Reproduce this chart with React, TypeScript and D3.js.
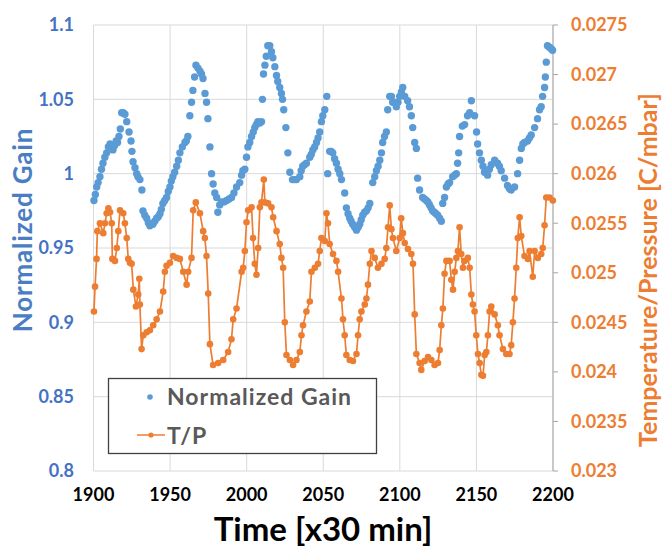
import React from "react";
import * as d3 from "d3";

const xTicks = [1900, 1950, 2000, 2050, 2100, 2150, 2200];
const gainTicks = [0.8, 0.85, 0.9, 0.95, 1, 1.05, 1.1];
const gainTickLabels = ["0.8", "0.85", "0.9", "0.95", "1", "1.05", "1.1"];
const tpTicks = [0.023, 0.0235, 0.024, 0.0245, 0.025, 0.0255, 0.026, 0.0265, 0.027, 0.0275];
const tpTickLabels = ["0.023", "0.0235", "0.024", "0.0245", "0.025", "0.0255", "0.026", "0.0265", "0.027", "0.0275"];

const gainT = [
  1900.3, 1901.2, 1902.1, 1903.0, 1904.2, 1905.2, 1906.2, 1907.4, 1908.6, 1909.7, 1910.8, 1911.8, 1912.7, 1913.8, 1914.8, 1915.7, 1916.6, 1917.5, 1918.4, 1919.4,
  1920.5, 1921.7, 1923.2, 1924.5, 1925.1, 1925.8, 1927.1, 1928.2, 1929.0, 1930.3, 1931.6, 1932.3, 1933.5, 1934.7, 1935.8, 1936.8, 1937.8, 1938.8, 1940.0, 1941.2,
  1942.3, 1943.4, 1944.3, 1945.3, 1946.5, 1947.7, 1948.8, 1949.9, 1950.8, 1951.8, 1953.0, 1954.3, 1955.4, 1956.4, 1958.0, 1959.7, 1960.6, 1961.6, 1962.9, 1964.0,
  1964.9, 1966.0, 1966.9, 1968.2, 1969.5, 1970.5, 1971.5, 1972.8, 1973.8, 1974.7, 1976.0, 1977.1, 1978.1, 1979.2, 1980.4, 1981.2, 1982.4, 1983.6, 1985.2, 1986.9,
  1988.5, 1990.1, 1991.7, 1993.4, 1995.5, 1996.7, 1997.5, 1998.8, 1999.9, 2000.8, 2002.0, 2003.2, 2004.3, 2005.3, 2006.3, 2007.3, 2008.5, 2009.7, 2010.3, 2011.0,
  2011.9, 2012.8, 2013.8, 2015.1, 2016.2, 2017.1, 2018.4, 2019.5, 2020.3, 2021.6, 2022.7, 2023.4, 2024.2, 2025.6, 2026.9, 2028.2, 2029.9, 2031.2, 2032.5, 2034.7,
  2035.6, 2036.6, 2037.8, 2039.0, 2041.2, 2042.2, 2043.2, 2044.4, 2045.6, 2046.6, 2047.7, 2048.8, 2049.7, 2051.0, 2052.3, 2052.9, 2054.2, 2055.2, 2056.2, 2057.4,
  2058.6, 2059.7, 2060.8, 2061.9, 2064.0, 2065.1, 2066.2, 2067.3, 2068.2, 2069.2, 2070.5, 2071.7, 2072.8, 2073.8, 2074.8, 2075.8, 2077.0, 2078.2, 2079.3, 2080.4,
  2082.3, 2083.6, 2084.7, 2085.8, 2086.9, 2088.0, 2088.8, 2090.0, 2091.2, 2092.1, 2093.4, 2094.5, 2095.3, 2096.6, 2097.7, 2098.8, 2099.9, 2101.0, 2101.9, 2103.2,
  2105.1, 2106.3, 2107.5, 2108.4, 2109.7, 2110.8, 2111.6, 2112.9, 2114.9, 2116.1, 2117.3, 2118.3, 2119.4, 2120.4, 2121.4, 2122.5, 2123.6, 2124.7, 2126.0, 2127.1,
  2128.0, 2129.2, 2130.4, 2131.5, 2132.5, 2134.5, 2135.7, 2136.9, 2137.7, 2138.4, 2139.0, 2140.8, 2142.3, 2144.2, 2145.6, 2146.7, 2148.8, 2150.1, 2150.8, 2152.0,
  2153.2, 2154.3, 2155.3, 2157.3, 2158.5, 2159.7, 2161.9, 2163.8, 2165.0, 2166.2, 2168.4, 2170.3, 2171.5, 2172.7, 2174.9, 2176.9, 2178.2, 2179.3, 2180.3, 2181.4,
  2183.4, 2184.6, 2185.8, 2188.0, 2189.9, 2191.2, 2192.3, 2193.2, 2194.5, 2195.0, 2195.6, 2196.4, 2197.6, 2198.8, 2199.7,
];
const gainV = [
  0.982, 0.986, 0.991, 0.994, 0.998, 1.003, 1.007, 1.011, 1.014, 1.018, 1.020, 1.018, 1.016, 1.019, 1.022, 1.021, 1.025, 1.030, 1.041, 1.041,
  1.040, 1.035, 1.028, 1.022, 1.015, 1.008, 1.004, 1.000, 0.998, 0.996, 0.989, 0.975, 0.972, 0.970, 0.967, 0.965, 0.966, 0.966, 0.968, 0.970,
  0.971, 0.973, 0.976, 0.980, 0.982, 0.984, 0.988, 0.991, 0.995, 0.998, 1.001, 1.005, 1.009, 1.014, 1.018, 1.021, 1.022, 1.025, 1.039, 1.048,
  1.056, 1.065, 1.073, 1.071, 1.069, 1.067, 1.064, 1.054, 1.048, 1.037, 1.018, 1.000, 0.993, 0.987, 0.984, 0.974, 0.979, 0.981, 0.981, 0.982,
  0.983, 0.984, 0.987, 0.991, 0.994, 0.999, 1.002, 1.003, 1.011, 1.018, 1.021, 1.025, 1.028, 1.031, 1.033, 1.035, 1.034, 1.035, 1.050, 1.067,
  1.073, 1.079, 1.086, 1.086, 1.082, 1.078, 1.072, 1.066, 1.062, 1.058, 1.054, 1.050, 1.043, 1.031, 1.014, 1.001, 0.996, 0.996, 0.996, 0.998,
  1.002, 1.005, 1.006, 1.007, 1.011, 1.013, 1.016, 1.018, 1.021, 1.024, 1.028, 1.035, 1.039, 1.043, 1.052, 1.000, 1.015, 1.015, 1.014, 1.010,
  1.007, 1.003, 1.000, 0.996, 0.987, 0.977, 0.973, 0.970, 0.968, 0.966, 0.964, 0.962, 0.964, 0.966, 0.969, 0.972, 0.974, 0.975, 0.977, 0.980,
  0.994, 0.998, 1.002, 1.005, 1.009, 1.014, 1.021, 1.025, 1.028, 1.043, 1.052, 1.052, 1.048, 1.048, 1.045, 1.048, 1.052, 1.055, 1.058, 1.052,
  1.049, 1.045, 1.039, 1.031, 1.021, 1.017, 0.997, 0.989, 0.984, 0.983, 0.982, 0.981, 0.979, 0.977, 0.975, 0.974, 0.973, 0.972, 0.970, 0.968,
  0.980, 0.984, 0.991, 0.993, 0.994, 0.998, 0.999, 1.000, 1.007, 1.014, 1.025, 1.032, 1.033, 1.039, 1.041, 1.049, 1.039, 1.028, 1.020, 1.014,
  1.009, 1.005, 1.001, 0.999, 1.003, 1.006, 1.009, 1.007, 1.005, 1.002, 0.997, 0.992, 0.990, 0.989, 0.991, 1.000, 1.009, 1.017, 1.020, 1.021,
  1.022, 1.024, 1.026, 1.031, 1.037, 1.043, 1.045, 1.052, 1.058, 1.065, 1.075, 1.086, 1.085, 1.084, 1.083,
];

const tpT = [
  1900.3, 1901.0, 1902.0, 1902.5, 1904.2, 1906.4, 1907.5, 1908.6, 1909.7, 1910.8, 1911.9, 1912.3, 1914.0, 1915.2, 1916.2, 1917.3, 1919.4, 1920.5, 1921.7, 1922.7,
  1923.8, 1924.9, 1926.0, 1927.7, 1929.2, 1929.9, 1930.3, 1931.4, 1932.5, 1934.7, 1936.8, 1939.0, 1941.2, 1943.4, 1945.5, 1946.6, 1947.7, 1949.9, 1952.0, 1954.3,
  1956.4, 1958.6, 1960.8, 1961.8, 1964.0, 1965.1, 1966.8, 1969.5, 1971.6, 1972.7, 1973.8, 1974.9, 1976.0, 1978.1, 1981.4, 1984.7, 1987.9, 1990.1, 1991.2, 1993.4,
  1996.7, 1997.7, 1998.8, 1999.9, 2001.0, 2003.2, 2004.2, 2005.3, 2006.4, 2007.5, 2008.6, 2009.7, 2011.2, 2011.9, 2014.0, 2016.2, 2017.3, 2019.5, 2021.6, 2022.7,
  2023.8, 2024.9, 2026.0, 2028.2, 2030.3, 2032.5, 2034.7, 2035.8, 2036.8, 2039.0, 2041.2, 2042.3, 2044.5, 2046.6, 2047.7, 2048.8, 2051.0, 2052.1, 2053.1, 2054.2,
  2056.4, 2058.6, 2059.7, 2061.9, 2062.9, 2064.0, 2065.1, 2067.3, 2069.4, 2071.7, 2072.7, 2073.8, 2074.9, 2077.1, 2078.2, 2079.2, 2080.4, 2081.5, 2083.6, 2085.7,
  2088.0, 2090.1, 2091.2, 2092.3, 2093.4, 2094.5, 2095.5, 2097.7, 2099.9, 2100.9, 2102.0, 2103.2, 2105.3, 2107.5, 2108.6, 2109.7, 2110.8, 2112.9, 2114.0, 2116.2,
  2118.4, 2120.6, 2122.7, 2124.9, 2126.0, 2127.1, 2128.1, 2129.2, 2130.4, 2132.5, 2133.6, 2134.7, 2135.8, 2136.9, 2137.9, 2139.0, 2140.1, 2141.2, 2142.3, 2144.4,
  2145.6, 2146.7, 2147.7, 2148.8, 2149.9, 2151.0, 2152.1, 2153.2, 2154.3, 2155.4, 2156.5, 2157.5, 2158.6, 2159.7, 2161.9, 2164.0, 2165.1, 2167.3, 2169.5, 2171.6,
  2172.7, 2173.8, 2174.9, 2176.0, 2177.0, 2178.2, 2179.3, 2181.4, 2183.6, 2184.7, 2186.8, 2188.0, 2190.1, 2192.3, 2193.3, 2194.5, 2195.6, 2197.7, 2199.9,
];
const tpV = [
  0.02461, 0.02486, 0.02514, 0.02542, 0.0255, 0.0254, 0.0255, 0.0256, 0.02565, 0.02561, 0.0255, 0.02514, 0.02512, 0.02525, 0.02542, 0.02563, 0.0256, 0.0255, 0.02535, 0.02514,
  0.0251, 0.02509, 0.02483, 0.02466, 0.02478, 0.02494, 0.02468, 0.02423, 0.02437, 0.0244, 0.02442, 0.02447, 0.02453, 0.02461, 0.02481, 0.02501, 0.02507, 0.0251, 0.02517, 0.02515,
  0.02514, 0.02501, 0.02488, 0.02501, 0.02515, 0.02563, 0.02571, 0.0256, 0.02542, 0.02535, 0.02517, 0.02479, 0.02428, 0.02407, 0.02409, 0.02412, 0.0242, 0.02433, 0.02453, 0.02464,
  0.02501, 0.02505, 0.02522, 0.02551, 0.02563, 0.02566, 0.02535, 0.02509, 0.02498, 0.02525, 0.02566, 0.02571, 0.02594, 0.02571, 0.0257, 0.02566, 0.02556, 0.02542, 0.02529, 0.02515,
  0.02505, 0.0245, 0.02417, 0.02412, 0.02407, 0.02412, 0.0242, 0.02437, 0.02447, 0.02461, 0.02471, 0.02501, 0.02505, 0.02509, 0.02522, 0.02535, 0.02532, 0.0256, 0.0255, 0.02529,
  0.02519, 0.02512, 0.02501, 0.02474, 0.02453, 0.02437, 0.02417, 0.02412, 0.02411, 0.02418, 0.02437, 0.02453, 0.02461, 0.02468, 0.02474, 0.02488, 0.02509, 0.02522, 0.02515, 0.02505,
  0.02509, 0.02514, 0.02525, 0.02546, 0.02568, 0.02544, 0.02535, 0.02522, 0.02535, 0.02555, 0.0254, 0.0253, 0.02524, 0.02519, 0.02509, 0.02458, 0.02418, 0.02409, 0.02402, 0.02411,
  0.02415, 0.02412, 0.02407, 0.02409, 0.02422, 0.02447, 0.02464, 0.02499, 0.02512, 0.02512, 0.02493, 0.02483, 0.02501, 0.02515, 0.02522, 0.02546, 0.02519, 0.02505, 0.02512, 0.02515,
  0.02505, 0.02478, 0.02468, 0.02461, 0.02437, 0.02418, 0.02409, 0.02397, 0.02396, 0.02417, 0.0242, 0.02437, 0.02461, 0.02466, 0.02458, 0.02447, 0.02437, 0.02423, 0.02418, 0.02418,
  0.02427, 0.0245, 0.02474, 0.02505, 0.02535, 0.02556, 0.02537, 0.02517, 0.02514, 0.02522, 0.02496, 0.02522, 0.02515, 0.02519, 0.02525, 0.02548, 0.02576, 0.02576, 0.02573,
];

const W = 664;
const H = 549;
const L = 93.5;
const R = 553;
const T = 25;
const B = 471;
const BLUE = "#5B9BD5";
const ORANGE = "#ED7D31";
const FONT = "Lato, 'Open Sans', sans-serif";

export default function App() {
  const x = d3.scaleLinear().domain([1900, 2200]).range([L, R]);
  const yG = d3.scaleLinear().domain([0.8, 1.1]).range([B, T]);
  const yT = d3.scaleLinear().domain([0.023, 0.0275]).range([B, T]);

  const gainPts = gainT.map((t, i) => [t, gainV[i]] as [number, number]);
  const tpPts = tpT.map((t, i) => [t, tpV[i]] as [number, number]);
  const line = d3
    .line<[number, number]>()
    .x((d) => x(d[0]))
    .y((d) => yT(d[1]));

  return (
    <svg
      width={W}
      height={H}
      style={{ position: "absolute", left: 0, top: 0, background: "#fff" }}
      fontFamily={FONT}
    >
      <rect x={0} y={0} width={W} height={H} fill="#fff" />
      {/* gridlines */}
      {gainTicks.map((v) => (
        <line key={"gy" + v} x1={L} x2={R} y1={yG(v)} y2={yG(v)} stroke="#d9d9d9" strokeWidth={1} />
      ))}
      {xTicks.map((v) => (
        <line key={"gx" + v} x1={x(v)} x2={x(v)} y1={T} y2={B} stroke="#d9d9d9" strokeWidth={1} />
      ))}
      {/* right axis */}
      <line x1={R} x2={R} y1={T} y2={B} stroke="#a6a6a6" strokeWidth={1} />
      {tpTicks.map((v) => (
        <line key={"rt" + v} x1={R} x2={R + 5} y1={yT(v)} y2={yT(v)} stroke="#a6a6a6" strokeWidth={1} />
      ))}

      {/* T/P line */}
      <path d={line(tpPts) || ""} fill="none" stroke={ORANGE} strokeWidth={1.7} />
      {tpPts.map((d, i) => (
        <circle key={"tp" + i} cx={x(d[0])} cy={yT(d[1])} r={3.3} fill={ORANGE} />
      ))}
      {/* gain markers */}
      {gainPts.map((d, i) => (
        <circle key={"g" + i} cx={x(d[0])} cy={yG(d[1])} r={3.7} fill={BLUE} />
      ))}

      {/* left tick labels */}
      {gainTicks.map((v, i) => (
        <text
          key={"gl" + v}
          x={74}
          y={yG(v)}
          dy="0.35em"
          textAnchor="end"
          fontSize={18}
          fontWeight="bold"
          fill="#4472C4"
        >
          {gainTickLabels[i]}
        </text>
      ))}
      {/* right tick labels */}
      {tpTicks.map((v, i) => (
        <text
          key={"tl" + v}
          x={571}
          y={yT(v)}
          dy="0.35em"
          textAnchor="start"
          fontSize={18}
          fontWeight="bold"
          fill={ORANGE}
        >
          {tpTickLabels[i]}
        </text>
      ))}
      {/* x tick labels */}
      {xTicks.map((v) => (
        <text
          key={"xl" + v}
          x={x(v)}
          y={495}
          dy="0.35em"
          textAnchor="middle"
          fontSize={18}
          fontWeight="bold"
          fill="#000"
        >
          {v}
        </text>
      ))}

      {/* axis titles */}
      <text
        x={0}
        y={0}
        transform={`translate(23,230) rotate(-90)`}
        textAnchor="middle"
        dy="0.35em"
        fontSize={26}
        fontWeight="bold"
        letterSpacing={0.8}
        fill="#4A7EC3"
      >
        Normalized Gain
      </text>
      <text
        x={0}
        y={0}
        transform={`translate(648,270) rotate(-90)`}
        textAnchor="middle"
        dy="0.35em"
        fontSize={25}
        fontWeight="bold"
        fill={ORANGE}
      >
        Temperature/Pressure [C/mbar]
      </text>
      <text x={323} y={541} textAnchor="middle" fontSize={33} fontWeight="bold" fill="#000">
        Time [x30 min]
      </text>

      {/* legend */}
      <rect x={108.5} y={378.5} width={268} height={75} fill="#fff" stroke="#404040" strokeWidth={1.3} />
      <circle cx={150} cy={397} r={2.8} fill={BLUE} />
      <text x={167} y={397} dy="0.35em" fontSize={23} fontWeight="bold" letterSpacing={1} fill="#595959">
        Normalized Gain
      </text>
      <line x1={137} x2={165} y1={435} y2={435} stroke={ORANGE} strokeWidth={1.5} />
      <circle cx={151} cy={435} r={2.6} fill={ORANGE} />
      <text x={167} y={436} dy="0.35em" fontSize={23} fontWeight="bold" letterSpacing={1} fill="#595959">
        T/P
      </text>
    </svg>
  );
}
